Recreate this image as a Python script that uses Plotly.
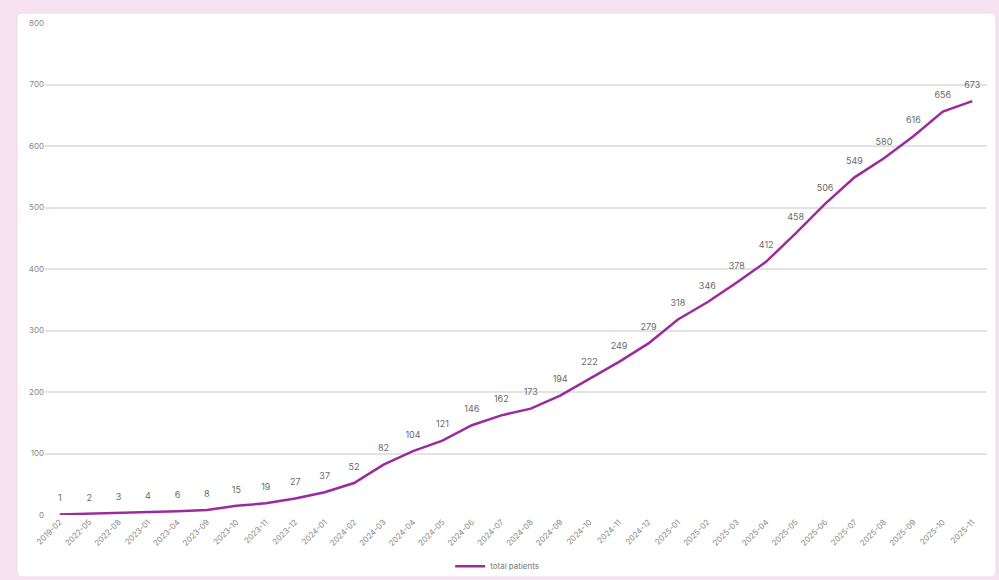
import plotly.graph_objects as go

months = ["2019-02", "2022-05", "2022-08", "2023-01", "2023-04", "2023-09", "2023-10", "2023-11",
          "2023-12", "2024-01", "2024-02", "2024-03", "2024-04", "2024-05", "2024-06", "2024-07",
          "2024-08", "2024-09", "2024-10", "2024-11", "2024-12", "2025-01", "2025-02", "2025-03",
          "2025-04", "2025-05", "2025-06", "2025-07", "2025-08", "2025-09", "2025-10", "2025-11"]
total_patients = [1, 2, 3, 4, 6, 8, 15, 19, 27, 37, 52, 82, 104, 121, 146, 162, 173, 194, 222,
                  249, 279, 318, 346, 378, 412, 458, 506, 549, 580, 616, 656, 673]
series_name = "total patients"
y_ticks = [0, 100, 200, 300, 400, 500, 600, 700, 800]

fig = go.Figure()
fig.add_trace(go.Scatter(
    x=months, y=total_patients, name=series_name,
    mode="lines+markers+text",
    line=dict(color="#9c2a9e", width=2.5),
    marker=dict(size=16, color="rgba(0,0,0,0)"),
    text=[str(v) for v in total_patients],
    textposition="top center",
    textfont=dict(size=9, color="#6b6b6b"),
    cliponaxis=False,
))

W, H = 999, 580
ml, mr, mt, mb = 45, 12, 23, 65
pw, ph = W - ml - mr, H - mt - mb

def px_x(p):
    return (p - ml) / pw

def px_y(p):
    return (H - mb - p) / ph

# white card
x0, x1, y0, y1, r = px_x(17), px_x(996), px_y(577), px_y(13), 6
rx, ry = r / pw, r / ph
path = (f"M {x0+rx},{y0} L {x1-rx},{y0} Q {x1},{y0} {x1},{y0+ry} "
        f"L {x1},{y1-ry} Q {x1},{y1} {x1-rx},{y1} L {x0+rx},{y1} Q {x0},{y1} {x0},{y1-ry} "
        f"L {x0},{y0+ry} Q {x0},{y0} {x0+rx},{y0} Z")
fig.add_shape(type="path", path=path, xref="paper", yref="paper",
              fillcolor="white", line=dict(color="#eadbe6", width=1), layer="below")

fig.update_layout(
    width=W, height=H,
    margin=dict(l=ml, r=mr, t=mt, b=mb, autoexpand=False),
    paper_bgcolor="#f6e3ef",
    plot_bgcolor="rgba(0,0,0,0)",
    font=dict(family="Inter, Open Sans, sans-serif", color="#777"),
    showlegend=True,
    legend=dict(orientation="h", x=0.48, xanchor="center", y=-0.104, yanchor="middle",
                font=dict(size=8, color="#777"), bgcolor="rgba(0,0,0,0)",
                itemwidth=30),
    xaxis=dict(type="category", tickangle=-45, tickfont=dict(size=8, color="#888"),
               showgrid=False, zeroline=False, showline=False, ticks="", automargin=False,
               range=[-0.5, len(months) - 0.5]),
    yaxis=dict(range=[0, 800], tickvals=y_ticks, tickfont=dict(size=8, color="#888"),
               showgrid=True, gridcolor="#e3e3e3", gridwidth=1.5, zeroline=False,
               showline=False, ticks="", ticksuffix="  ", automargin=False),
)

fig.write_html("out.html")
